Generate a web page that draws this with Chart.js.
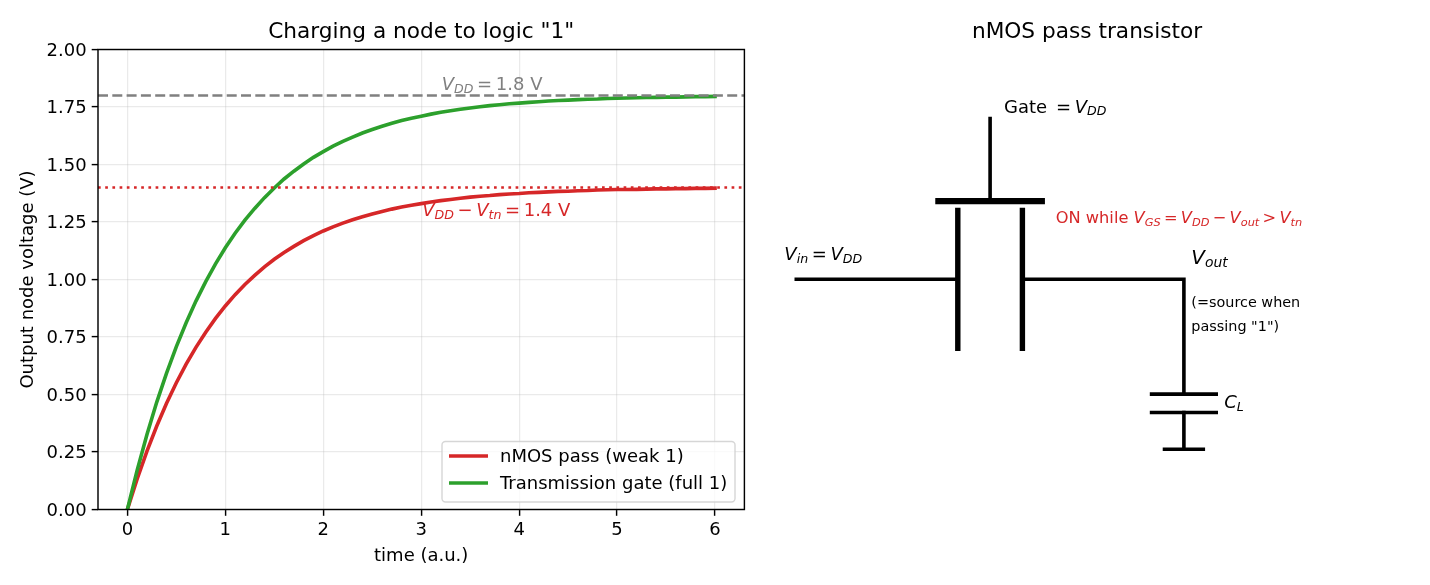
<!DOCTYPE html>
<html>
<head>
<meta charset="utf-8">
<title>Pass transistor charging</title>
<script src="https://cdn.jsdelivr.net/npm/chart.js@4/dist/chart.umd.js"></script>
<style>
  html, body { margin: 0; padding: 0; background: #fff; }
  canvas { position: absolute; top: 0; }
  #curves { left: 0; }
  #schematic { left: 764px; }
</style>
</head>
<body>
<canvas id="curves" width="764" height="585"></canvas>
<canvas id="schematic" width="646" height="585"></canvas>
<script>
// charging curves
var timeValues = [0, 0.1, 0.2, 0.3, 0.4, 0.5, 0.6, 0.7, 0.8, 0.9, 1, 1.1, 1.2, 1.3, 1.4, 1.5, 1.6, 1.7, 1.8, 1.9, 2,
  2.1, 2.2, 2.3, 2.4, 2.5, 2.6, 2.7, 2.8, 2.9, 3, 3.1, 3.2, 3.3, 3.4, 3.5, 3.6, 3.7, 3.8, 3.9, 4,
  4.1, 4.2, 4.3, 4.4, 4.5, 4.6, 4.7, 4.8, 4.9, 5, 5.1, 5.2, 5.3, 5.4, 5.5, 5.6, 5.7, 5.8, 5.9, 6];
var nmosValues = [0, 0.133, 0.254, 0.363, 0.462, 0.551, 0.632, 0.705, 0.771, 0.831, 0.885, 0.934, 0.978, 1.018, 1.055, 1.088, 1.117, 1.144, 1.169, 1.191, 1.211,
  1.229, 1.245, 1.260, 1.273, 1.285, 1.296, 1.306, 1.315, 1.323, 1.330, 1.337, 1.343, 1.348, 1.353, 1.358, 1.362, 1.365, 1.369, 1.372, 1.374,
  1.377, 1.379, 1.381, 1.383, 1.384, 1.386, 1.387, 1.389, 1.390, 1.391, 1.391, 1.392, 1.393, 1.394, 1.394, 1.395, 1.395, 1.396, 1.396, 1.397];
var tgateValues = [0, 0.171, 0.326, 0.467, 0.593, 0.708, 0.812, 0.906, 0.991, 1.068, 1.138, 1.201, 1.258, 1.309, 1.356, 1.398, 1.437, 1.471, 1.502, 1.531, 1.556,
  1.580, 1.601, 1.619, 1.637, 1.652, 1.666, 1.679, 1.691, 1.701, 1.710, 1.719, 1.727, 1.734, 1.740, 1.746, 1.751, 1.756, 1.760, 1.764, 1.767,
  1.770, 1.773, 1.776, 1.778, 1.780, 1.782, 1.784, 1.785, 1.787, 1.788, 1.789, 1.790, 1.791, 1.792, 1.793, 1.793, 1.794, 1.795, 1.795, 1.796];
var timeLimits = [-0.3, 6.3];
var vddLevel = 1.8;
var weakLevel = 1.4;
var xTickValues = [0, 1, 2, 3, 4, 5, 6];
var yTickValues = [0, 0.25, 0.5, 0.75, 1, 1.25, 1.5, 1.75, 2];
var seriesNames = ['nMOS pass (weak 1)', 'Transmission gate (full 1)'];

// schematic segments, in the 0-10 drawing units of the right panel
var gateLead = [[3.5, 8.5], [3.5, 6.7]];
var gatePlate = [[2.7, 6.7], [4.3, 6.7]];
var channelLeft = [[3, 6.5], [3, 3.5]];
var channelRight = [[4, 6.5], [4, 3.5]];
var inputWire = [[0.5, 5], [3, 5]];
var outputWire = [[4, 5], [6.5, 5], [6.5, 2.5]];
var capTop = [[6, 2.5], [7, 2.5]];
var capBottom = [[6, 2.1], [7, 2.1]];
var capLead = [[6.5, 2.1], [6.5, 1.3]];
var groundBar = [[6.2, 1.3], [6.8, 1.3]];

var RED = '#d62728';
var GREEN = '#2ca02c';
var GRAY = '#808080';
var GRID = 'rgba(176,176,176,0.27)';
var FONT = '"DejaVu Sans"';

function points(xs, ys) {
  return xs.map(function(x, i) { return { x: x, y: ys[i] }; });
}

function asPoints(pairs) {
  return pairs.map(function(p) { return { x: p[0], y: p[1] }; });
}

// text with italic symbols and subscripts: each run is [text, kind, gap before in em]
function drawRuns(ctx, x, y, runs, size, color) {
  ctx.save();
  ctx.fillStyle = color;
  ctx.textAlign = 'left';
  ctx.textBaseline = 'alphabetic';
  runs.forEach(function(r) {
    var isSub = r[1] == 's';
    var s = isSub ? size * 0.7 : size;
    ctx.font = (r[1] == 'r' ? '' : 'italic ') + s + 'px ' + FONT;
    x += (r[2] || 0) * size;
    ctx.fillText(r[0], x, isSub ? y + size * 0.15 : y);
    x += ctx.measureText(r[0]).width;
  });
  ctx.restore();
}

var notesPlugin = {
  id: 'notes',
  afterDatasetsDraw: function(chart, args, opts) {
    var sx = chart.scales.x, sy = chart.scales.y;
    opts.items.forEach(function(n) {
      drawRuns(chart.ctx, sx.getPixelForValue(n.x), sy.getPixelForValue(n.y), n.runs, n.size, n.color);
    });
  }
};

// framed legend inside the lower right corner of the axes
var boxLegendPlugin = {
  id: 'boxLegend',
  afterDatasetsDraw: function(chart) {
    var ctx = chart.ctx, area = chart.chartArea;
    var left = area.right - 302.4, top = area.bottom - 68;
    var rows = chart.data.datasets.filter(function(d) { return d.legendRow; });
    ctx.save();
    ctx.beginPath();
    ctx.roundRect(left, top, 293, 60.5, 3.5);
    ctx.fillStyle = 'rgba(255,255,255,0.8)';
    ctx.fill();
    ctx.lineWidth = 1.4;
    ctx.strokeStyle = 'rgba(204,204,204,0.8)';
    ctx.stroke();
    ctx.font = '18px ' + FONT;
    ctx.textBaseline = 'alphabetic';
    rows.forEach(function(d, i) {
      var y = top + 14.5 + i * 27;
      ctx.beginPath();
      ctx.moveTo(left + 7, y);
      ctx.lineTo(left + 46, y);
      ctx.lineWidth = 3.6;
      ctx.strokeStyle = d.borderColor;
      ctx.stroke();
      ctx.fillStyle = '#000';
      ctx.fillText(d.label, left + 58, y + 6);
    });
    ctx.restore();
  }
};

var spinesPlugin = {
  id: 'spines',
  afterDatasetsDraw: function(chart) {
    var a = chart.chartArea, ctx = chart.ctx;
    ctx.save();
    ctx.lineWidth = 1.44;
    ctx.strokeStyle = '#000';
    ctx.strokeRect(a.left, a.top, a.right - a.left, a.bottom - a.top);
    ctx.restore();
  }
};

// value labels on the y axis sit a little low of the tick centre
var yLabelNudgePlugin = {
  id: 'yLabelNudge',
  beforeDraw: function(chart) {
    chart.scales.y.getLabelItems(chart.chartArea).forEach(function(item) {
      item.textOffset += 1.5;
    });
  }
};

function curve(label, values, color, order) {
  return {
    label: label,
    legendRow: true,
    data: points(timeValues, values),
    borderColor: color,
    borderWidth: 3.6,
    borderCapStyle: 'square',
    pointRadius: 0,
    clip: 0,
    order: order
  };
}

function level(label, value, color, dash, order) {
  return {
    label: label,
    data: points(timeLimits, [value, value]),
    borderColor: color,
    borderWidth: 2.7,
    borderDash: dash,
    pointRadius: 0,
    clip: 0,
    order: order
  };
}

new Chart(document.getElementById('curves'), {
  type: 'line',
  data: {
    datasets: [
      curve(seriesNames[0], nmosValues, RED, 4),
      curve(seriesNames[1], tgateValues, GREEN, 3),
      level('VDD', vddLevel, GRAY, [10, 4.3], 2),
      level('VDD-Vtn', weakLevel, RED, [2.7, 4.5], 1)
    ]
  },
  plugins: [yLabelNudgePlugin, notesPlugin, boxLegendPlugin, spinesPlugin],
  options: {
    responsive: false,
    animation: false,
    devicePixelRatio: 1,
    events: [],
    layout: { padding: { left: 0, right: 19.6, top: 0, bottom: 0 } },
    plugins: {
      legend: { display: false },
      tooltip: { enabled: false },
      title: {
        display: true,
        fullSize: false,
        text: 'Charging a node to logic "1"',
        color: '#000',
        font: { family: FONT, size: 21.67, weight: 'normal', lineHeight: 1.2 },
        padding: { top: 19, bottom: 4.5 }
      },
      notes: {
        items: [
          { x: 3.21, y: 1.823, size: 18, color: GRAY, runs: [['V', 'i'], ['DD', 's'], ['=', 'r', 0.2], ['1.8', 'r', 0.2], ['V', 'r', 0.32]] },
          { x: 3.01, y: 1.274, size: 18, color: RED, runs: [['V', 'i'], ['DD', 's'], ['\u2212', 'r', 0.2], ['V', 'i', 0.2], ['tn', 's'], ['=', 'r', 0.2], ['1.4', 'r', 0.2], ['V', 'r', 0.32]] }
        ]
      }
    },
    scales: {
      x: {
        type: 'linear',
        min: timeLimits[0],
        max: timeLimits[1],
        afterBuildTicks: function(axis) {
          axis.ticks = xTickValues.map(function(v) { return { value: v }; });
        },
        afterFit: function(axis) { axis.height = 75.5; },
        border: { display: false },
        grid: { color: GRID, lineWidth: 1.2, tickColor: '#000', tickWidth: 1.44, tickLength: 6.3 },
        ticks: {
          color: '#000', padding: 4, maxRotation: 0, autoSkip: false,
          font: { family: FONT, size: 18 },
          callback: function(v) { return String(v); }
        },
        title: {
          display: true, text: 'time (a.u.)', color: '#000',
          font: { family: FONT, size: 18 }, padding: { top: 0, bottom: 18 }
        }
      },
      y: {
        type: 'linear',
        min: 0,
        max: 2,
        afterBuildTicks: function(axis) {
          axis.ticks = yTickValues.map(function(v) { return { value: v }; });
        },
        afterFit: function(axis) { axis.width = 98; },
        border: { display: false },
        grid: { color: GRID, lineWidth: 1.2, tickColor: '#000', tickWidth: 1.44, tickLength: 6.3 },
        ticks: {
          color: '#000', padding: 5, autoSkip: false,
          font: { family: FONT, size: 18 },
          callback: function(v) { return v.toFixed(2); }
        },
        title: {
          display: true, text: 'Output node voltage (V)', color: '#000',
          font: { family: FONT, size: 18 }, padding: { top: 17.5, bottom: 0 }
        }
      }
    }
  }
});

function wire(pairs, width) {
  return {
    data: asPoints(pairs),
    borderColor: '#000',
    borderWidth: width,
    borderCapStyle: 'square',
    borderJoinStyle: 'miter',
    showLine: true,
    pointRadius: 0,
    clip: false
  };
}

new Chart(document.getElementById('schematic'), {
  type: 'scatter',
  data: {
    datasets: [
      wire(gateLead, 3.6),
      wire(gatePlate, 6.3),
      wire(channelLeft, 5.4),
      wire(channelRight, 5.4),
      wire(inputWire, 3.6),
      wire(outputWire, 3.6),
      wire(capTop, 3.6),
      wire(capBottom, 3.6),
      wire(capLead, 3.6),
      wire(groundBar, 3.6)
    ]
  },
  plugins: [notesPlugin],
  options: {
    responsive: false,
    animation: false,
    devicePixelRatio: 1,
    events: [],
    layout: { padding: { left: 0, right: 0, top: 0, bottom: 76 } },
    plugins: {
      legend: { display: false },
      tooltip: { enabled: false },
      title: {
        display: true,
        text: 'nMOS pass transistor',
        color: '#000',
        font: { family: FONT, size: 21.67, weight: 'normal', lineHeight: 1.2 },
        padding: { top: 19, bottom: 4.5 }
      },
      notes: {
        items: [
          { x: 3.715, y: 8.625, size: 18, color: '#000', runs: [['Gate', 'r'], ['=', 'r', 0.5], ['V', 'i', 0.2], ['DD', 's']] },
          { x: 4.515, y: 6.22, size: 16.25, color: RED, runs: [['ON while', 'r'], ['V', 'i', 0.32], ['GS', 's'], ['=', 'r', 0.2], ['V', 'i', 0.2], ['DD', 's'], ['\u2212', 'r', 0.2], ['V', 'i', 0.2], ['out', 's'], ['>', 'r', 0.2], ['V', 'i', 0.2], ['tn', 's']] },
          { x: 0.315, y: 5.42, size: 18, color: '#000', runs: [['V', 'i'], ['in', 's'], ['=', 'r', 0.2], ['V', 'i', 0.2], ['DD', 's']] },
          { x: 6.615, y: 5.33, size: 19.9, color: '#000', runs: [['V', 'i'], ['out', 's']] },
          { x: 6.615, y: 4.39, size: 14.4, color: '#000', runs: [['(=source when', 'r']] },
          { x: 6.615, y: 3.88, size: 14.4, color: '#000', runs: [['passing "1")', 'r']] },
          { x: 7.125, y: 2.2, size: 18, color: '#000', runs: [['C', 'i'], ['L', 's']] }
        ]
      }
    },
    scales: {
      x: { type: 'linear', min: 0, max: 10, display: false },
      y: { type: 'linear', min: 0, max: 10, display: false }
    }
  }
});
</script>
</body>
</html>
